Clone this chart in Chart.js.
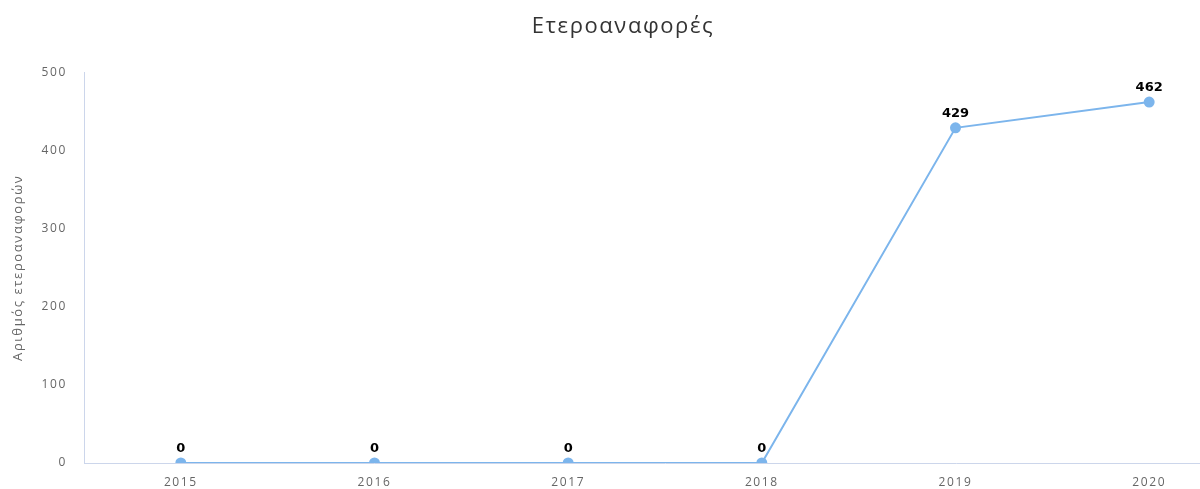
<!DOCTYPE html>
<html>
<head>
<meta charset="utf-8">
<script src="https://cdn.jsdelivr.net/npm/chart.js@4"></script>
<style>
  html, body { margin: 0; padding: 0; background: #fff; overflow: hidden; }
  #wrap { width: 1260px; height: 489px; }
</style>
</head>
<body>
<div id="wrap"><canvas id="lineChart" width="1260" height="489"></canvas></div>
<script>
// data
const years = ['2015', '2016', '2017', '2018', '2019', '2020']
const counts = [0, 0, 0, 0, 429, 462]
const yTicks = [0, 100, 200, 300, 400, 500]

const chartTitle = 'Ετεροαναφορές'
const yTitle = 'Αριθμός ετεροαναφορών'

// the original text is a bit spread out, fake it with letterSpacing
const spacing = {
  id: 'spacing',
  beforeDraw(chart) {
    chart.ctx.letterSpacing = '1.6px'
  },
  beforeDatasetsDraw(chart) {
    chart.ctx.letterSpacing = '0px'
  },
}

// simple value labels above the points
const valueLabels = {
  id: 'valueLabels',
  afterDatasetsDraw(chart) {
    const ctx = chart.ctx
    const meta = chart.getDatasetMeta(0)
    ctx.save()
    ctx.letterSpacing = '0px'
    ctx.font = 'bold 13px "DejaVu Sans"'
    ctx.textAlign = 'center'
    ctx.textBaseline = 'middle'
    ctx.lineJoin = 'round'
    meta.data.forEach((pt, i) => {
      const txt = String(counts[i])
      ctx.lineWidth = 2
      ctx.strokeStyle = '#fff'
      ctx.strokeText(txt, pt.x, pt.y - 14)
      ctx.fillStyle = '#000'
      ctx.fillText(txt, pt.x, pt.y - 14)
    })
    ctx.restore()
  },
}

new Chart('lineChart', {
  type: 'line',
  data: {
    labels: years,
    datasets: [
      {
        data: counts,
        borderColor: '#7cb5ec',
        backgroundColor: '#7cb5ec',
        borderWidth: 2,
        pointRadius: 4.5,
        pointHoverRadius: 4.5,
        tension: 0,
        fill: false,
      },
    ],
  },
  options: {
    responsive: false,
    animation: false,
    layout: { padding: { left: 0, right: 14, top: 0, bottom: 0 } },
    plugins: {
      legend: { display: false },
      tooltip: { enabled: false },
      title: {
        display: true,
        text: chartTitle,
        color: '#333',
        font: { family: '"Open Sans"', size: 22, weight: 'normal' },
        padding: { top: 14, bottom: 32 },
      },
    },
    scales: {
      x: {
        offset: true,
        grid: { display: false, drawTicks: false },
        border: { display: true, color: '#ccd6eb', width: 1 },
        ticks: {
          color: '#666',
          font: { family: '"Open Sans"', size: 12 },
          padding: 12,
          maxRotation: 0,
        },
        afterFit: (scale) => { scale.height = 26 },
      },
      y: {
        min: 0,
        max: 500,
        grid: { display: false, drawTicks: false },
        border: { display: true, color: '#ccd6eb', width: 1 },
        afterBuildTicks: (scale) => {
          scale.ticks = yTicks.map((v) => ({ value: v }))
        },
        ticks: {
          color: '#666',
          font: { family: '"Open Sans"', size: 12 },
          padding: 17,
        },
        title: {
          display: true,
          text: yTitle,
          color: '#666',
          font: { family: '"Open Sans"', size: 13 },
          padding: { top: 10, bottom: 0 },
        },
        afterFit: (scale) => { scale.width = 84 },
      },
    },
  },
  plugins: [spacing, valueLabels],
})
</script>
</body>
</html>
